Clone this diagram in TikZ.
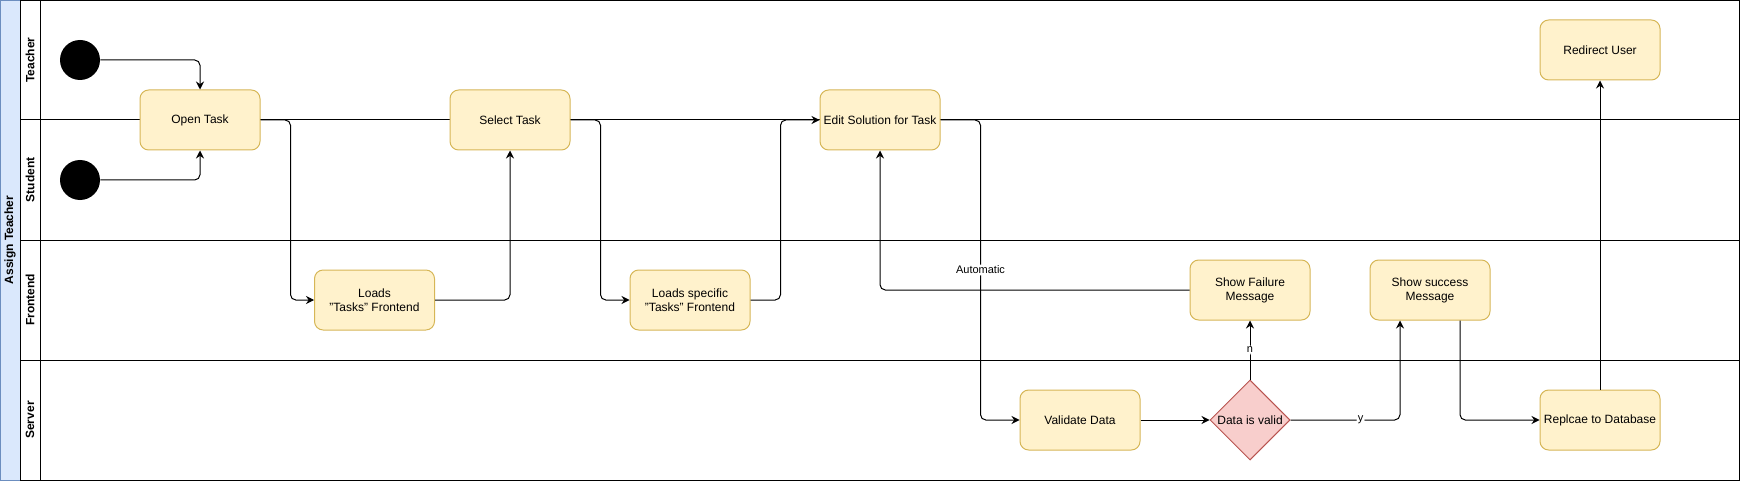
\documentclass[tikz,border=0pt]{standalone}
\usepackage{fontspec}
\setmainfont{Liberation Sans}
\usetikzlibrary{arrows.meta,shapes.geometric}
\definecolor{boxfill}{HTML}{FFF2CC}
\definecolor{boxline}{HTML}{D6B656}
\definecolor{decfill}{HTML}{F8CECC}
\definecolor{decline}{HTML}{B85450}
\definecolor{poolfill}{HTML}{DAE8FC}
\definecolor{poolline}{HTML}{6C8EBF}
\begin{document}
\begin{tikzpicture}[x=0.75pt,y=-0.75pt,
  act/.style={draw=boxline, fill=boxfill, rounded corners=6.5pt, line width=0.75pt,
    minimum width=90pt, minimum height=45pt, inner sep=0pt, align=center,
    font=\fontsize{9}{10.5}\selectfont},
  dec/.style={diamond, draw=decline, fill=decfill, line width=0.75pt, aspect=1,
    minimum width=60pt, minimum height=60pt, inner sep=0pt,
    font=\fontsize{9}{10.5}\selectfont},
  startdot/.style={circle, fill=black, minimum size=30pt, inner sep=0pt},
  lanelbl/.style={rotate=90, font=\bfseries\fontsize{9}{10.5}\selectfont},
  lbl/.style={fill=white, inner sep=1pt, font=\fontsize{8.25}{9.5}\selectfont},
  flow/.style={draw=black, line width=0.75pt, rounded corners=4pt,
    -{Stealth[length=6pt,width=6pt,inset=2pt]}},
  laneline/.style={draw=black, line width=0.75pt}]
\useasboundingbox (0,0) rectangle (1741,481);
% pool
\path[draw=poolline, fill=poolfill, line width=0.75pt] (0.5,0.5) rectangle (20,480);
\node[lanelbl] (pool) at (10,240) {Assign Teacher};
% lanes
\path[laneline] (20,0.5) rectangle (1739,480);
\path[laneline] (20,120) -- (1739,120);
\path[laneline] (20,240) -- (1739,240);
\path[laneline] (20,360) -- (1739,360);
\path[laneline] (40,0.5) -- (40,480);
\node[lanelbl] (lT) at (30,60) {Teacher};
\node[lanelbl] (lS) at (30,180) {Student};
\node[lanelbl] (lF) at (30,300) {Frontend};
\node[lanelbl] (lV) at (30,420) {Server};
% nodes
\node[startdot] (s1) at (80,60) {};
\node[startdot] (s2) at (80,180) {};
\node[act] (open) at (200,120) {Open Task};
\node[act] (sel) at (510,120) {Select Task};
\node[act] (load1) at (374.5,300) {Loads\\"Tasks" Frontend};
\node[act] (load2) at (690,300) {Loads specific\\"Tasks" Frontend};
\node[act] (edit) at (880,120) {Edit Solution for Task};
\node[act] (val) at (1080,420) {Validate Data};
\node[dec] (dec) at (1250,420) {Data is valid};
\node[act] (fail) at (1250,290) {Show Failure\\Message};
\node[act] (succ) at (1430,290) {Show success\\Message};
\node[act] (rep) at (1600,420) {Replcae to Database};
\node[act] (redir) at (1600,50) {Redirect User};
% connectors
\draw[flow] (s1.east) -| (open.north);
\draw[flow] (s2.east) -| (open.south);
\draw[flow] (open.east) -- ++(30,0) |- (load1.west);
\draw[flow] (load1.east) -| (sel.south);
\draw[flow] (sel.east) -- ++(30,0) |- (load2.west);
\draw[flow] (load2.east) -- ++(30,0) |- (edit.west);
\draw[flow] (edit.east) -- ++(40,0) |- node[lbl, pos=0.25] {Automatic} (val.west);
\draw[flow] (val.east) -- (dec.west);
\draw[flow] (dec.north) -- node[lbl] {n} (fail.south);
\draw[flow] (dec.east) -| node[lbl, pos=0.32] {y} ([xshift=-22.5pt]succ.south);
\draw[flow] (fail.west) -| (edit.south);
\draw[flow] ([xshift=22.5pt]succ.south) |- (rep.west);
\draw[flow] (rep.north) -- (redir.south);
\end{tikzpicture}
\end{document}
